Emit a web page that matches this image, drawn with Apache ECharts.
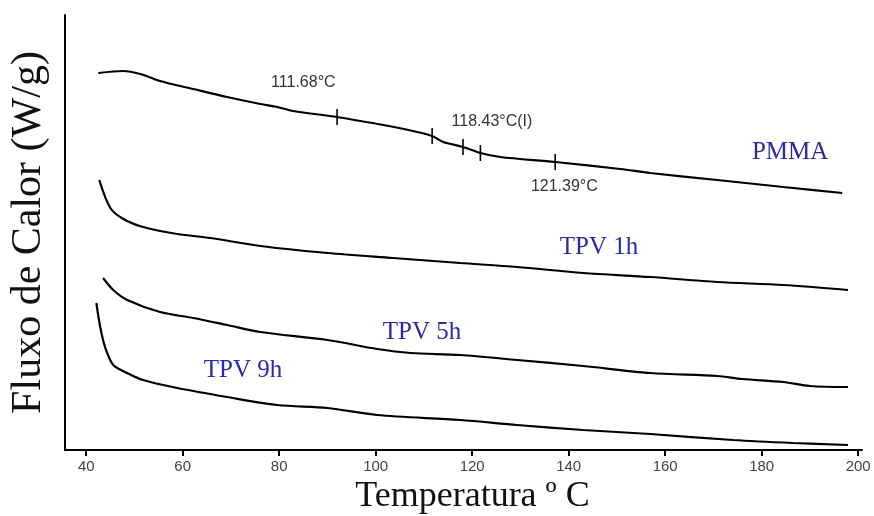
<!DOCTYPE html>
<html>
<head>
<meta charset="utf-8">
<script src="https://cdn.jsdelivr.net/npm/echarts@6/dist/echarts.min.js"></script>
<style>html,body{margin:0;padding:0;background:#fff}#c{width:874px;height:516px}</style>
</head>
<body>
<div id="c"></div>
<script>
// Temperature (°C) values and heat-flow values (arbitrary units, no y scale in original)
var pmmaT = [42.5,47.7,51.2,55.3,62.2,69.2,76.1,79.6,82.9,92.0,96.8,101.6,108.6,111.7,114.0,118.1,121.7,125.8,137.2,150.7,156.9,170.8,184.5,196.7];
var pmmaY = [377,379,376,369,361,353,346,343,339,333,329,325,318,314,308,303,297,293,288,281,277,270,263,257];

var tpv1T = [42.7,45.0,47.7,51.8,58.9,65.7,76.1,90.0,103.6,117.5,129.3,143.0,156.9,170.8,184.5,197.9];
var tpv1Y = [270,242,231,223,216,212,204,197,192,187,183,177,173,168,165,160];

var tpv5T = [43.5,45.6,48.5,55.3,62.2,69.2,76.1,90.0,100.3,107.2,117.5,129.3,143.0,156.9,170.8,176.0,184.5,190.0,197.9];
var tpv5Y = [172,160,150,138,132,125,118,110,101,97,95,90,84,77,74,71,68,64,63];

var tpv9T = [42.1,42.9,43.9,45.6,48.5,51.8,58.9,69.2,79.6,90.0,100.3,117.5,129.3,143.0,156.9,174.1,186.5,197.9];
var tpv9Y = [147,123,103,85,77,70,62,53,45,42,35,30,25,20,16,10,7,5];

// marks on the PMMA curve
var markT = [92.0,111.7,118.1,121.7,137.2];
var markY = [333,314,303,297,288];

// annotations
var annoText = ['111.68°C','118.43°C(I)','121.39°C'];
var annoT = [85.0,124.1,139.1];
var annoY = [367,328,263];

// series names and their label positions
var seriesNames = ['PMMA','TPV 1h','TPV 5h','TPV 9h'];
var nameT = [185.9,146.3,109.6,72.5];
var nameY = [298,203,118,80];

var xTicks = [40,60,80,100,120,140,160,180,200];

function zip(a,b){return a.map(function(v,i){return [v,b[i]];});}

var curves = [zip(pmmaT,pmmaY),zip(tpv1T,tpv1Y),zip(tpv5T,tpv5Y),zip(tpv9T,tpv9Y)];

var series = curves.map(function(d,i){
  return {type:'line',name:seriesNames[i],data:d,showSymbol:false,smooth:0.3,
    lineStyle:{color:'#000',width:2.2},z:3};
});
series.push({type:'scatter',data:zip(markT,markY),symbol:'rect',symbolSize:[1.6,16],
  itemStyle:{color:'#000',opacity:1},z:4});
series.push({type:'scatter',symbolSize:0,itemStyle:{opacity:1},
  data:annoText.map(function(t,i){return {name:t,value:[annoT[i],annoY[i]]};}),
  label:{show:true,position:'inside',formatter:'{b}',color:'#333',fontFamily:'Arial, Liberation Sans',fontSize:16}});
series.push({type:'scatter',symbolSize:0,itemStyle:{opacity:1},
  data:seriesNames.map(function(t,i){return {name:t,value:[nameT[i],nameY[i]]};}),
  label:{show:true,position:'inside',formatter:'{b}',color:'#2a2aa8',fontFamily:'Liberation Serif, Times New Roman, serif',fontSize:25}});

var chart = echarts.init(document.getElementById('c'));
chart.setOption({
  animation:false,
  backgroundColor:'#fff',
  grid:{left:65,right:12,top:15,bottom:66,outerBoundsMode:'none',containLabel:false},
  xAxis:{type:'value',min:35.6,max:200.8,
    name:'Temperatura º C',nameLocation:'middle',nameGap:27,
    nameTextStyle:{fontFamily:'Liberation Serif, Times New Roman, serif',fontSize:36,color:'#111',padding:[0,0,0,18]},
    axisLine:{lineStyle:{color:'#000',width:2}},
    axisTick:{show:true,length:6,lineStyle:{color:'#000',width:2},customValues:xTicks},
    axisLabel:{color:'#444',fontFamily:'Arial, Liberation Sans',fontSize:15,margin:9,customValues:xTicks},
    splitLine:{show:false}},
  yAxis:{type:'value',min:0,max:435,
    name:'Fluxo de Calor (W/g)',nameLocation:'middle',nameGap:15,
    nameTextStyle:{fontFamily:'Liberation Serif, Times New Roman, serif',fontSize:42,color:'#111'},
    axisLine:{show:true,lineStyle:{color:'#000',width:2}},
    axisTick:{show:false},axisLabel:{show:false},splitLine:{show:false}},
  series:series
});
</script>
</body>
</html>
